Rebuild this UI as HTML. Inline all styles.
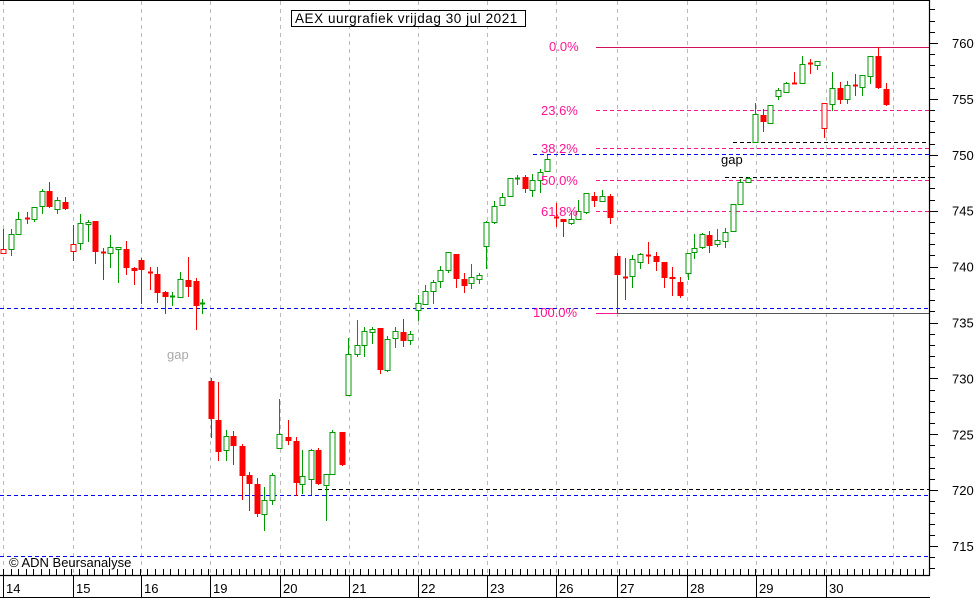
<!DOCTYPE html>
<html><head><meta charset="utf-8"><style>
html,body{margin:0;padding:0;background:#fff;}
svg{display:block;font-family:"Liberation Sans",sans-serif;}
</style></head><body>
<svg id="c" width="980" height="612" xmlns="http://www.w3.org/2000/svg">
<rect width="980" height="612" fill="#fff"/>
<line x1="0" y1="0.5" x2="929" y2="0.5" stroke="#000"/>
<g id="grid" stroke="#bbb" stroke-dasharray="4,4" stroke-width="1"></g>
<g id="hl"></g>
<g id="cd"></g>
<rect x="291.5" y="10.5" width="234" height="16" fill="#fff" stroke="#000"/>
<text x="295" y="23" font-size="13.5" letter-spacing="0.55" fill="#000">AEX uurgrafiek vrijdag 30 jul 2021</text>
<g font-size="13" fill="#ff1493">
<text x="549" y="51">0.0%</text>
<text x="541" y="115">23.6%</text>
<text x="541" y="153">38.2%</text>
<text x="541" y="185">50.0%</text>
<text x="541" y="216">61.8%</text>
<text x="533" y="317">100.0%</text>
</g>
<text x="167" y="359" font-size="13" fill="#aaa">gap</text>
<text x="721" y="164" font-size="13" fill="#000">gap</text>
<text x="9" y="567" font-size="13" fill="#000">© ADN Beursanalyse</text>
<g id="ax"></g>
</svg>
<script>
var ns="http://www.w3.org/2000/svg";
function el(p,t,a){var e=document.createElementNS(ns,t);for(var k in a)e.setAttribute(k,a[k]);p.appendChild(e);return e;}
var g=document.getElementById('grid');
[3,73,141,210,280,349,418,487,556,617,687,756,826,893].forEach(function(x){el(g,'line',{x1:x+.5,y1:1,x2:x+.5,y2:575});});
var h=document.getElementById('hl');
function hl(x1,x2,y,c,d){var a={x1:x1,x2:x2,y1:y+.5,y2:y+.5,stroke:c,'stroke-width':1};if(d)a['stroke-dasharray']=d;el(h,'line',a);}
hl(596,929,47,'#d0105a');
hl(596,929,110,'#ff1493','4,3');
hl(596,929,148,'#ff1493','4,3');
hl(596,929,180,'#ff1493','4,3');
hl(596,929,211,'#ff1493','4,3');
hl(596,929,313,'#555');
hl(596,617,313,'#ff1493');
hl(533,929,154,'#00f','4,3');
hl(0,929,308,'#00f','4,3');
hl(0,929,495,'#00f','4,3');
hl(0,929,556,'#00f','4,3');
hl(733,929,142,'#000','4,3');
hl(725,929,177,'#000','4,3');
hl(318,929,489,'#000','4,3');
var C=[
[3,'rh',249,253,229,253],[11,'g',234,249,229,255],[18,'g',219,234,212,234],[27,'rx',218,218,212,223],[34,'g',207,219,207,221],
[42,'g',191,206,189,213],[49,'r',191,207,182,207],[57,'g',200,209,197,213],[65,'r',202,209,197,209],
[73,'rh',244,251,225,260],[80,'g',223,243,214,249],[88,'g',222,224,220,241],[95,'r',221,252,221,263],[103,'rx',252,252,248,279],
[110,'g',247,253,235,267],[118,'g',247,248,247,282],[126,'r',249,268,241,274],[134,'r',268,271,267,284],
[141,'r',260,270,258,303],[150,'rx',272,272,267,289],[157,'r',274,293,267,302],[165,'r',292,297,291,313],[172,'gx',296,296,292,305],
[180,'g',279,297,272,297],[188,'r',280,287,257,296],[196,'r',281,306,278,329],[202,'gx',303,303,299,313],
[211,'r',381,419,378,437],[218,'r',420,452,382,460],[226,'g',436,450,430,460],[233,'r',436,446,431,464],[242,'r',446,476,444,499],
[249,'r',475,484,472,510],[257,'r',484,514,478,516],[264,'g',500,514,487,530],[272,'g',475,500,473,504],
[279,'g',434,448,399,448],[288,'r',437,441,420,444],[296,'r',441,483,437,495],[302,'g',476,484,450,493],[311,'g',450,479,449,494],
[318,'r',450,484,448,484],[326,'g',474,485,474,520],[332,'g',432,474,430,474],[342,'r',432,465,432,465],
[348,'g',354,395,338,395],[357,'g',345,354,320,356],[364,'g',331,345,327,356],[372,'g',329,332,327,343],[380,'r',328,370,328,373],
[387,'g',339,370,336,371],[395,'g',331,338,327,347],[403,'r',332,341,319,346],[410,'g',334,340,331,344],
[418,'g',303,310,295,320],[425,'g',291,304,285,304],[433,'g',282,291,280,303],[440,'g',270,281,266,287],[448,'g',252,270,252,272],
[456,'r',254,279,254,287],[464,'r',279,286,273,292],[471,'g',277,283,264,288],[479,'g',275,279,273,283],
[486,'g',222,246,221,268],[494,'g',206,222,201,223],[502,'g',197,205,193,205],[510,'g',178,196,178,196],[517,'gx',178,178,175,184],
[525,'r',177,189,175,192],[532,'g',180,190,174,196],[540,'g',172,180,169,192],[547,'g',159,171,155,171],
[556,'rx',217,217,203,226],[563,'r',219,222,219,236],[571,'g',219,223,211,224],[578,'g',211,219,200,219],[586,'g',193,212,193,213],
[594,'r',196,201,192,206],[602,'g',196,201,190,201],[610,'r',196,218,194,223],
[617,'r',256,275,253,313],[625,'rx',277,277,258,299],[632,'g',259,276,255,287],[640,'g',254,262,253,268],[648,'rx',255,255,242,263],
[656,'r',256,262,252,270],[664,'r',262,278,262,287],[672,'r',277,279,267,295],[680,'r',282,296,277,297],
[688,'g',253,273,253,279],[694,'g',248,252,234,258],[702,'g',234,247,233,248],[709,'r',235,246,231,252],[717,'g',240,244,229,246],
[725,'g',232,241,228,247],[733,'g',204,231,204,231],[740,'g',182,204,179,204],[748,'g',178,182,177,182],
[755,'g',114,142,103,142],[763,'r',115,122,109,131],[770,'g',105,123,105,123],[778,'g',90,96,88,99],[786,'g',83,92,82,92],
[794,'rx',83,83,72,83],[802,'g',64,83,56,83],[810,'rx',63,63,59,73],[817,'g',61,65,61,69],
[824,'rh',103,128,103,137],[832,'g',88,104,72,110],[840,'r',88,100,82,103],[847,'g',85,99,81,103],[855,'rx',85,85,74,95],
[862,'g',75,87,75,95],[870,'g',56,76,56,83],[878,'r',56,88,47,88],[886,'r',89,105,83,105]
];
var cd=document.getElementById('cd');
C.forEach(function(k){
 var x=k[0],t=k[1],o=Math.min(k[2],k[3]),c=Math.max(k[2],k[3]),hi=k[4],lo=k[5];
 var col=(t[0]=='g')?'#090':'#f00';
 el(cd,'line',{x1:x+.5,x2:x+.5,y1:hi,y2:lo+1,stroke:col,'stroke-width':1});
 if(t=='gx'||t=='rx'){el(cd,'line',{x1:x-2,x2:x+3,y1:o+.5,y2:o+.5,stroke:col,'stroke-width':2});}
 else if(t=='r'){el(cd,'rect',{x:x-2.5,y:o,width:6,height:Math.max(c-o,2),fill:col});}
 else {el(cd,'rect',{x:x-2,y:o+.5,width:5,height:Math.max(c-o,2),fill:'#fff',stroke:col,'stroke-width':1});}
});
var ax=document.getElementById('ax');
el(ax,'line',{x1:929.5,x2:929.5,y1:0,y2:576,stroke:'#000','stroke-width':1.2});
el(ax,'line',{x1:0,x2:930,y1:575.5,y2:575.5,stroke:'#000','stroke-width':1.2});
el(ax,'line',{x1:0,x2:930,y1:597.5,y2:597.5,stroke:'#000','stroke-width':1});
for(var v=713;v<=763;v++){var y=43+(760-v)*11.18; if(y<2||y>574)continue;
 var maj=(v%5==0);el(ax,'line',{x1:929,x2:maj?938:935,y1:Math.round(y)+.5,y2:Math.round(y)+.5,stroke:'#000'});
 if(maj){var tx=el(ax,'text',{x:952,y:y+5,'font-size':13,fill:'#000'});tx.textContent=v;}}
var days=[[3,'14'],[73,'15'],[141,'16'],[210,'19'],[280,'20'],[349,'21'],[418,'22'],[487,'23'],[556,'26'],[617,'27'],[687,'28'],[756,'29'],[826,'30']];
for(var x=3;x<929;x+=7.6){el(ax,'line',{x1:Math.round(x)+.5,x2:Math.round(x)+.5,y1:569,y2:575,stroke:'#000'});}
days.forEach(function(d){el(ax,'line',{x1:d[0]+.5,x2:d[0]+.5,y1:575,y2:598,stroke:'#000'});var t=el(ax,'text',{x:d[0]+3,y:593,'font-size':13,fill:'#000'});t.textContent=d[1];});
</script>
</body></html>
